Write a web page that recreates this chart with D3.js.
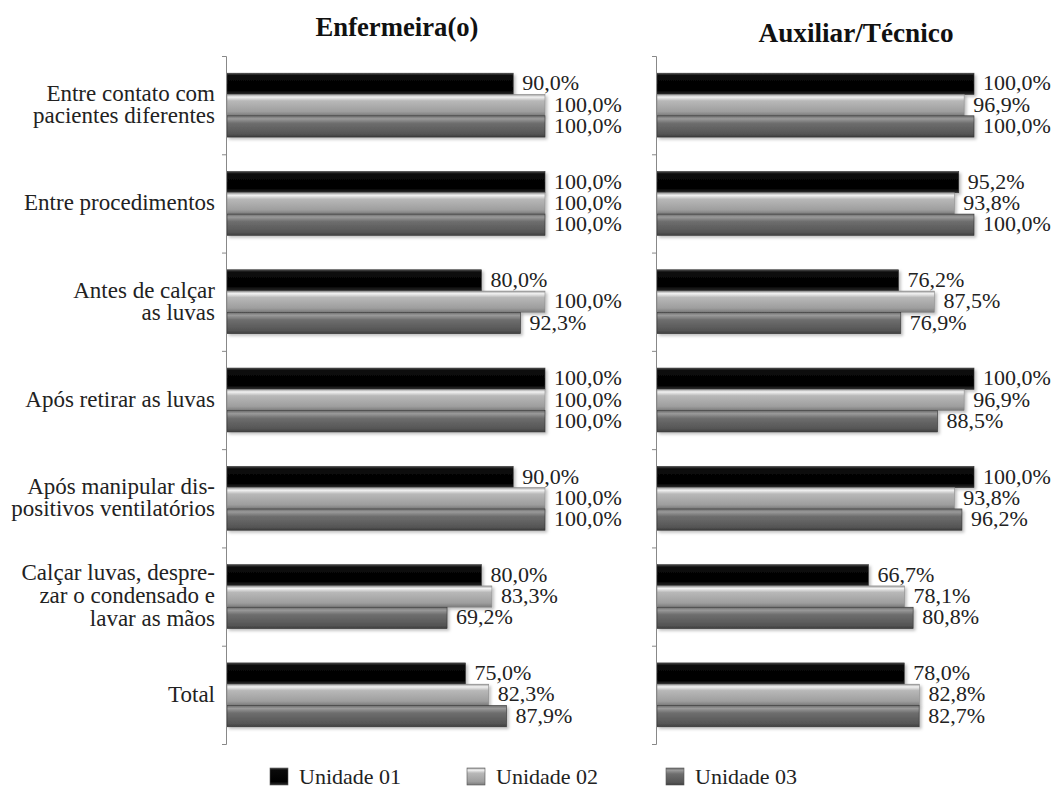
<!DOCTYPE html>
<html>
<head>
<meta charset="utf-8">
<script src="https://cdn.jsdelivr.net/npm/d3@7"></script>
<style>
  html, body { margin: 0; padding: 0; background: #fff; }
  #chart text { font-family: "Liberation Serif", Tinos, "Times New Roman", serif; }
</style>
</head>
<body>
<svg id="chart" width="1056" height="790"></svg>
<script>
// Categories (each inner array is one wrapped label)
const categories = [
  ["Entre contato com", "pacientes diferentes"],
  ["Entre procedimentos"],
  ["Antes de calçar", "as luvas"],
  ["Após retirar as luvas"],
  ["Após manipular dis-", "positivos ventilatórios"],
  ["Calçar luvas, despre-", "zar o condensado e", "lavar as mãos"],
  ["Total"]
];
const seriesNames = ["Unidade 01", "Unidade 02", "Unidade 03"];
const panelTitles = ["Enfermeira(o)", "Auxiliar/Técnico"];

// Percentages per panel and unit
const enfUnidade01 = [90.0, 100.0, 80.0, 100.0, 90.0, 80.0, 75.0];
const enfUnidade02 = [100.0, 100.0, 100.0, 100.0, 100.0, 83.3, 82.3];
const enfUnidade03 = [100.0, 100.0, 92.3, 100.0, 100.0, 69.2, 87.9];
const auxUnidade01 = [100.0, 95.2, 76.2, 100.0, 100.0, 66.7, 78.0];
const auxUnidade02 = [96.9, 93.8, 87.5, 96.9, 93.8, 78.1, 82.8];
const auxUnidade03 = [100.0, 100.0, 76.9, 88.5, 96.2, 80.8, 82.7];

const panels = [
  { title: panelTitles[0], series: [enfUnidade01, enfUnidade02, enfUnidade03], x0: 227, x1: 545, titleX: 397, titleY: 36, titleW: 163 },
  { title: panelTitles[1], series: [auxUnidade01, auxUnidade02, auxUnidade03], x0: 657, x1: 974, titleX: 856, titleY: 42, titleW: 195 }
];

function draw() {
  const svg = d3.select("#chart");
  const defs = svg.append("defs");

  // Shaded bar fills
  const gradStops = [
    [[0, "#4a4a4a"], [0.12, "#0a0a0a"], [0.8, "#000"], [1, "#2e2e2e"]],
    [[0, "#9c9c9c"], [0.12, "#f2f2f2"], [0.3, "#b8b8b8"], [0.8, "#9e9e9e"], [1, "#7a7a7a"]],
    [[0, "#6c6c6c"], [0.14, "#9a9a9a"], [0.35, "#6e6e6e"], [0.85, "#555"], [1, "#3e3e3e"]]
  ];
  gradStops.forEach((stops, i) => {
    const g = defs.append("linearGradient").attr("id", "g" + i)
      .attr("x1", 0).attr("y1", 0).attr("x2", 0).attr("y2", 1);
    stops.forEach(s => g.append("stop").attr("offset", s[0]).attr("stop-color", s[1]));
  });
  const shadow = defs.append("filter").attr("id", "shadow")
    .attr("x", "-5%").attr("y", "-20%").attr("width", "110%").attr("height", "160%");
  shadow.append("feDropShadow").attr("dx", 2).attr("dy", 2).attr("stdDeviation", 1.5)
    .attr("flood-color", "#000").attr("flood-opacity", 0.25);

  const yTop = 56, yBottom = 744;
  const y = d3.scaleBand().domain(d3.range(categories.length))
    .range([yTop, yBottom]).paddingInner(0.35).paddingOuter(0.175);
  const ySub = d3.scaleBand().domain(d3.range(seriesNames.length)).range([0, y.bandwidth()]);
  const yTicks = d3.scaleLinear().domain([0, categories.length]).range([yTop, yBottom]);

  panels.forEach(p => {
    const x = d3.scaleLinear().domain([0, 100]).range([p.x0, p.x1]);
    const g = svg.append("g");

    g.append("text").attr("x", p.titleX).attr("y", p.titleY)
      .attr("text-anchor", "middle")
      .attr("font-size", 27).attr("font-weight", "bold")
      .attr("textLength", p.titleW).attr("lengthAdjust", "spacingAndGlyphs")
      .attr("fill", "#111").text(p.title);

    p.series.forEach((vals, si) => {
      g.selectAll(null).data(vals).join("rect")
        .attr("x", x(0))
        .attr("y", (d, i) => y(i) + ySub(si))
        .attr("width", d => x(d) - x(0))
        .attr("height", ySub.bandwidth())
        .attr("fill", `url(#g${si})`)
        .attr("stroke", si === 1 ? "#8a8a8a" : "#333").attr("stroke-width", 0.6)
        .attr("filter", "url(#shadow)");

      g.selectAll(null).data(vals).join("text")
        .attr("x", d => x(d) + 9)
        .attr("y", (d, i) => y(i) + ySub(si) + ySub.bandwidth() / 2)
        .attr("dy", "0.3em")
        .attr("font-size", 22)
        .attr("fill", "#222")
        .text(d => d3.format(".1f")(d).replace(".", ",") + "%");
    });

    // Category axis with boundary ticks
    const axis = g.append("g").attr("transform", `translate(${p.x0 - 1},0)`)
      .call(d3.axisLeft(yTicks).ticks(categories.length).tickSize(4).tickFormat(""));
    axis.attr("font-family", null);
    axis.select(".domain").attr("stroke", "#888");
    axis.selectAll(".tick line").attr("stroke", "#888");
  });

  // Category labels for the left panel
  const catG = svg.append("g");
  categories.forEach((lines, i) => {
    const cy = y(i) + y.bandwidth() / 2;
    const lh = lines.length > 2 ? 23 : 22;
    const t = catG.append("text").attr("text-anchor", "end")
      .attr("font-size", 23).attr("fill", "#222");
    lines.forEach((ln, k) => {
      t.append("tspan").attr("x", 215)
        .attr("y", cy + (k - (lines.length - 1) / 2) * lh)
        .attr("dy", "0.3em").text(ln);
    });
  });

  // Legend
  const legendX = [270, 467, 666];
  const lg = svg.append("g");
  seriesNames.forEach((name, i) => {
    lg.append("rect").attr("x", legendX[i]).attr("y", 768).attr("width", 18).attr("height", 17)
      .attr("fill", `url(#g${i})`).attr("stroke", "#555").attr("stroke-width", 0.6);
    lg.append("text").attr("x", legendX[i] + 29).attr("y", 784)
      .attr("font-size", 22)
      .attr("fill", "#222").text(name);
  });
}

draw();
</script>
</body>
</html>
